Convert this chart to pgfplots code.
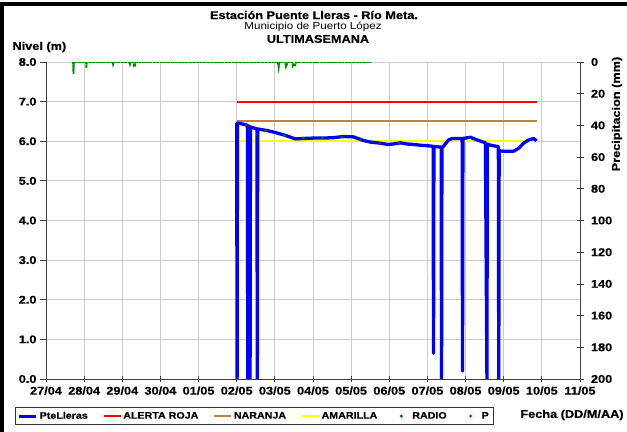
\documentclass[border=0pt]{standalone}
\usepackage{fontspec}
\setmainfont{Liberation Sans}
\newfontfamily\wsans[FakeStretch=1.14, BoldFeatures={FakeBold=0.6}]{Liberation Sans}
\usepackage{pgfplots}
\pgfplotsset{compat=1.18}

\newcommand\lab{\wsans\bfseries\fontsize{11.2}{13}\selectfont}
\newcommand\leg{\wsans\bfseries\fontsize{9.4}{11}\selectfont}
\newcommand\treg{\wsans\fontsize{10.2}{12}\selectfont}

\definecolor{nivel}{RGB}{0,0,255}
\definecolor{amarilla}{RGB}{255,255,0}
\definecolor{radio}{RGB}{0,110,0}
\definecolor{pcol}{RGB}{0,140,0}

\begin{document}
\begin{tikzpicture}
\path[use as bounding box] (0,0) rectangle (627bp,432bp);
\fill[black] (0,0) rectangle (4bp,430bp);
\fill[black] (0,426bp) rectangle (627bp,430bp);

% nivel (m), dias desde 27/04
\begin{axis}[
  at={(46bp,53bp)}, anchor=south west,
  scale only axis, width=534bp, height=317bp,
  xmin=0, xmax=14, ymin=0, ymax=8,
  axis x line*=bottom, axis y line*=left,
  xtick={0,...,14},
  xticklabels={27/04,28/04,29/04,30/04,01/05,02/05,03/05,04/05,05/05,06/05,07/05,08/05,09/05,10/05,11/05},
  ytick={0,...,8},
  yticklabels={0.0,1.0,2.0,3.0,4.0,5.0,6.0,7.0,8.0},
  tick label style={font=\lab},
  x tick label style={yshift=-1bp},
  ytick align=outside, xtick align=center,
  major tick length=6bp,
  tick style={black!75, line width=0.8bp},
  axis line style={black!75, line width=0.8bp, -},
  grid=major, grid style={black!20, line width=0.8bp},
  legend columns=6,
  legend style={at={(0.39,-0.117)}, anchor=center, draw=black!80,
    line width=0.8bp, font=\leg, inner sep=2.5bp,
    /tikz/every even column/.append style={column sep=13bp}},
  legend cell align=left,
]
\addlegendimage{color=nivel, line width=3bp}\addlegendentry{PteLleras}
\addlegendimage{color=red, line width=1.5bp}\addlegendentry{ALERTA ROJA}
\addlegendimage{color=brown, line width=1.5bp}\addlegendentry{NARANJA}
\addlegendimage{color=amarilla, line width=1.5bp}\addlegendentry{AMARILLA}
\addlegendimage{legend image code/.code={\path[draw=none] (0bp,0bp) -- (18bp,0bp); \fill[radio] (9bp,0bp) circle (1.1bp);}}\addlegendentry{RADIO}
\addlegendimage{legend image code/.code={\path[draw=none] (0bp,0bp) -- (18bp,0bp); \fill[pcol] (9bp,0bp) circle (1.1bp);}}\addlegendentry{P}

\addplot[color=red, line width=2bp, mark=none] coordinates {(5.0,7.0) (12.86,7.0)};
\addplot[color=brown, line width=2bp, mark=none] coordinates {(5.0,6.5) (12.86,6.5)};
\addplot[color=amarilla, line width=1.8bp, mark=none] coordinates {(5.0,6.0) (12.86,6.0)};

\addplot[color=nivel, line width=3.3bp, line join=round, mark=none] coordinates {
(5.00,6.46) (5.01,0) (5.02,6.46) (5.22,6.42) (5.28,6.40) (5.29,0) (5.30,6.39)
(5.34,6.37) (5.35,0) (5.36,6.36) (5.53,6.31) (5.54,0) (5.55,6.31)
(5.80,6.27) (6.01,6.22) (6.27,6.15) (6.53,6.06) (6.74,6.07) (7.01,6.08)
(7.27,6.08) (7.53,6.09) (7.80,6.12) (8.06,6.11) (8.32,6.02) (8.50,5.98)
(8.77,5.95) (8.95,5.92) (9.10,5.93) (9.29,5.96) (9.47,5.93) (9.63,5.92)
(9.81,5.90) (10.08,5.88) (10.15,5.87) (10.16,0.65) (10.17,5.87) (10.36,5.85)
(10.37,0) (10.38,5.85) (10.42,5.87) (10.55,6.03) (10.65,6.07) (10.91,6.07)
(10.92,0.2) (10.93,6.07) (11.13,6.10) (11.31,6.03) (11.52,5.96) (11.56,0)
(11.57,5.93) (11.65,5.90) (11.83,5.87) (11.86,5.86) (11.87,0) (11.88,5.76)
(11.97,5.75) (12.26,5.75) (12.39,5.82) (12.52,5.95) (12.65,6.03) (12.78,6.07)
(12.86,6.01)};

\addplot[only marks, mark=*, mark size=1.2bp, color=radio] coordinates {
(5.25,6.41) (5.75,6.27) (6.25,6.15) (6.75,6.08) (7.25,6.08) (7.75,6.11)
(8.25,6.03) (8.75,5.95) (9.25,5.96)};
\end{axis}

% precipitacion (mm)
\begin{axis}[
  at={(46bp,53bp)}, anchor=south west,
  scale only axis, width=534bp, height=317bp,
  xmin=0, xmax=14, ymin=0, ymax=200, y dir=reverse,
  axis x line=none, axis y line*=right,
  ytick={0,20,...,200},
  yticklabels={0,20,40,60,80,100,120,140,160,180,200},
  tick label style={font=\lab},
  y tick label style={xshift=4bp},
  tick align=center, major tick length=7bp,
  tick style={black!75, line width=0.8bp},
  axis line style={black!75, line width=0.8bp, -},
]
\addplot[color=pcol, line width=1.8bp, dash pattern=on 3bp off 0.6bp, mark=none] coordinates {
(0.68,0) (0.71,0) (0.72,7.4) (0.73,0) (1.05,0) (1.06,3.8) (1.07,0)
(1.75,0) (1.76,1.5) (1.78,0) (2.18,0) (2.20,1.5) (2.22,0) (2.29,0)
(2.31,2.8) (2.33,2.8) (2.35,0) (6.08,0) (6.10,3.5) (6.12,0) (6.27,0)
(6.29,3.0) (6.31,2.0) (6.33,0) (6.45,0) (6.47,2.5) (6.50,1.5) (6.53,2.0)
(6.56,0) (8.53,0)};
\end{axis}

\node[font=\lab] at (314bp,417bp) {Estación Puente Lleras - Río Meta.};
\node[font=\treg] at (313bp,405bp) {Municipio de Puerto López};
\node[font=\lab] at (318bp,393bp) {ULTIMASEMANA};
\node[font=\lab, anchor=west] at (9bp,385bp) {Nivel (m)};
\node[font=\lab, rotate=90] at (617bp,318bp) {Precipitacion (mm)};
\node[font=\lab] at (572bp,17bp) {Fecha (DD/M/AA)};
\end{tikzpicture}
\end{document}
